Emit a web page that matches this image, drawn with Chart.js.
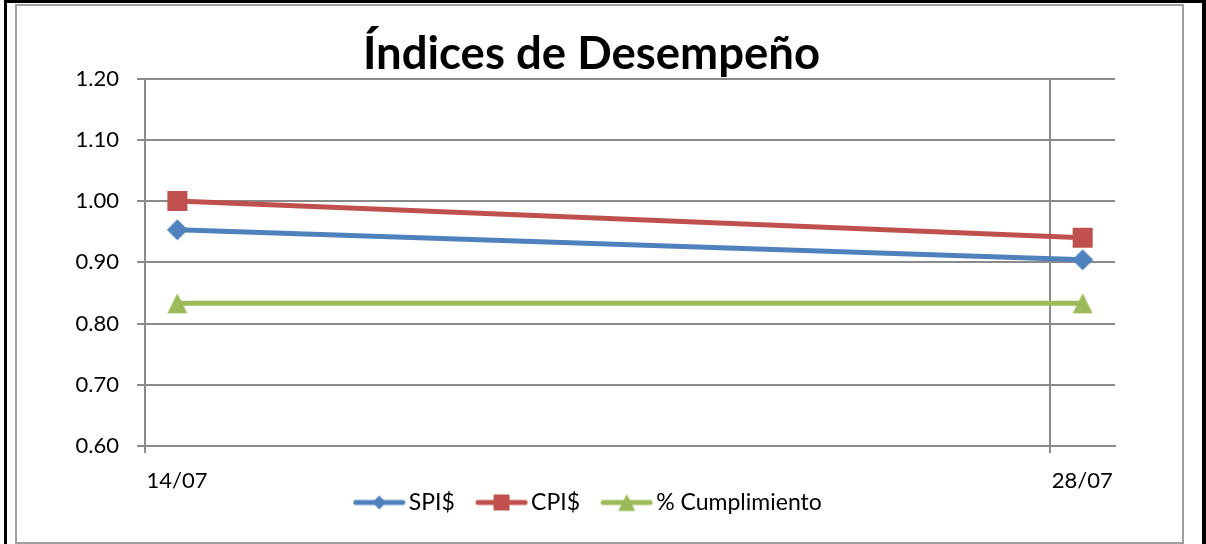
<!DOCTYPE html>
<html>
<head>
<meta charset="utf-8">
<script src="https://cdn.jsdelivr.net/npm/chart.js@4.4.1/dist/chart.umd.min.js"></script>
<style>
  html, body { margin: 0; padding: 0; background: #fff; }
  body { width: 1206px; height: 544px; position: relative; overflow: hidden; }
  #frame {
    position: absolute; left: 4px; top: 0; width: 1202px; height: 600px; box-sizing: border-box;
    border-left: 3px solid #000; border-right: 4px solid #000; border-top: 3px solid #000;
  }
  #box {
    position: absolute; left: 15px; top: 4px; width: 1169px; height: 540px; box-sizing: border-box;
    border: 2px solid #9f9f9f;
  }
  #myChart { position: absolute; left: 0; top: 0; }
</style>
</head>
<body>
<div id="frame"></div>
<div id="box"><canvas id="myChart" width="1165" height="536"></canvas></div>
<script>
// days counted from 14/07
const dayLabels = ['14/07', '28/07'];
const tickDays = [0, 14];
const pointDays = [0.5, 14.5];

const seriesNames = ['SPI$', 'CPI$', '% Cumplimiento'];
const spi = [0.953, 0.904];
const cpi = [1.00, 0.940];
const cumplimiento = [0.833, 0.833];

const colors = ['#4F81BD', '#C0504D', '#9BBB59'];
const shapes = ['diamond', 'square', 'triangle'];

const gridColor = '#8a8a8a';
const font = { family: 'Lato', size: 22 };

function drawMarker(g, shape, cx, cy, s) {
  g.beginPath();
  if (shape === 'diamond') {
    g.moveTo(cx, cy - s / 2); g.lineTo(cx + s / 2, cy); g.lineTo(cx, cy + s / 2); g.lineTo(cx - s / 2, cy);
  } else if (shape === 'square') {
    g.rect(cx - s / 2, cy - s / 2, s, s);
  } else {
    g.moveTo(cx, cy - s / 2); g.lineTo(cx + s / 2, cy + s / 2); g.lineTo(cx - s / 2, cy + s / 2);
  }
  g.closePath();
  g.fill();
}

function pointImage(i) {
  const c = document.createElement('canvas');
  c.width = 22; c.height = 22;
  const g = c.getContext('2d');
  g.fillStyle = colors[i];
  drawMarker(g, shapes[i], 11, 11, i === 0 ? 21 : 20);
  return c;
}

// line sample + marker, a bit wider than the legend box so the text sits close
function legendIcon(i) {
  const c = document.createElement('canvas');
  c.width = 53; c.height = 20;
  const g = c.getContext('2d');
  g.strokeStyle = colors[i];
  g.lineWidth = 5;
  g.lineCap = 'round';
  g.beginPath(); g.moveTo(3, 10); g.lineTo(50, 10); g.stroke();
  g.fillStyle = colors[i];
  drawMarker(g, shapes[i], 26.5, 10, [14, 16, 17][i]);
  return c;
}

function initChart() {
  const canvas = document.getElementById('myChart');
  const ctx = canvas.getContext('2d');
  const values = [spi, cpi, cumplimiento];

  new Chart(ctx, {
    type: 'line',
    data: {
      datasets: values.map((vals, i) => ({
        label: seriesNames[i],
        data: vals.map((v, k) => ({ x: pointDays[k], y: v })),
        borderColor: colors[i],
        backgroundColor: colors[i],
        borderWidth: 5,
        tension: 0,
        pointStyle: pointImage(i),
        pointRadius: 10,
        pointHoverRadius: 10
      }))
    },
    options: {
      responsive: false,
      animation: false,
      layout: { padding: { left: 0, right: 16, top: 0, bottom: 18 } },
      scales: {
        x: {
          type: 'linear',
          min: 0,
          max: 15,
          afterBuildTicks: s => { s.ticks = tickDays.map(v => ({ value: v })); },
          ticks: {
            callback: v => dayLabels[tickDays.indexOf(v)],
            labelOffset: 32,
            padding: 15,
            autoSkip: false,
            maxRotation: 0,
            color: '#000',
            font: font
          },
          grid: { color: gridColor, lineWidth: 2, tickLength: 7 },
          border: { color: gridColor, width: 2 },
          afterFit: s => { s.height = 45; }
        },
        y: {
          min: 0.6,
          max: 1.2,
          ticks: {
            stepSize: 0.1,
            padding: 18,
            color: '#000',
            font: font,
            callback: v => v.toFixed(2)
          },
          grid: { color: gridColor, lineWidth: 2, tickLength: 8 },
          border: { color: gridColor, width: 2 },
          afterFit: s => { s.width = 128; }
        },
        yRight: {
          position: 'right',
          grid: { display: false },
          ticks: { display: false },
          border: { display: false },
          afterFit: s => { s.width = 51; }
        }
      },
      plugins: {
        title: {
          display: true,
          text: 'Índices de Desempeño',
          color: '#000',
          font: { family: 'Lato', size: 45.5, weight: 'bold', lineHeight: 1 },
          padding: { top: 26, bottom: 1 }
        },
        legend: {
          position: 'bottom',
          labels: {
            usePointStyle: true,
            pointStyleWidth: 36,
            padding: 0,
            color: '#000',
            font: { family: 'Lato', size: 23 },
            generateLabels: chart => chart.data.datasets.map((ds, i) => ({
              text: ds.label + (i < chart.data.datasets.length - 1 ? '\u2003\u2002' : ''),
              pointStyle: legendIcon(i),
              fillStyle: colors[i],
              strokeStyle: colors[i],
              lineWidth: 0,
              hidden: false,
              datasetIndex: i,
              fontColor: '#000'
            }))
          }
        },
        tooltip: { enabled: false }
      }
    }
  });
}

window.addEventListener('load', initChart);
</script>
</body>
</html>
